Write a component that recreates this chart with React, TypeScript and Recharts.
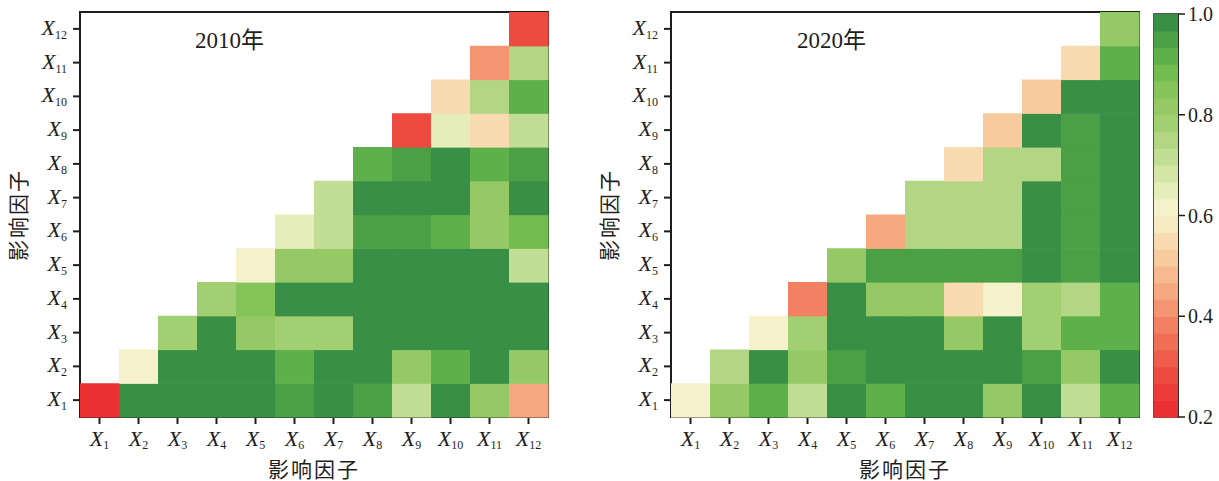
import React from 'react';
import { ScatterChart, Scatter, XAxis, YAxis, ReferenceArea } from 'recharts';

// factor labels (subscripts of X)
const factors = ['1', '2', '3', '4', '5', '6', '7', '8', '9', '10', '11', '12'];

// q-values, row Xi lists the cells for columns Xi..X12
const rows2010: number[][] = [
  [0.21, 0.98, 0.98, 0.98, 0.98, 0.95, 0.98, 0.95, 0.71, 0.98, 0.81, 0.46],
  [0.61, 0.98, 0.98, 0.98, 0.91, 0.98, 0.98, 0.81, 0.91, 0.98, 0.81],
  [0.78, 0.98, 0.8, 0.78, 0.78, 0.98, 0.98, 0.98, 0.98, 0.98],
  [0.78, 0.86, 0.98, 0.98, 0.98, 0.98, 0.98, 0.98, 0.98],
  [0.61, 0.81, 0.81, 0.98, 0.98, 0.98, 0.98, 0.71],
  [0.66, 0.71, 0.95, 0.95, 0.91, 0.81, 0.88],
  [0.71, 0.98, 0.98, 0.98, 0.81, 0.98],
  [0.91, 0.95, 0.98, 0.91, 0.95],
  [0.29, 0.66, 0.56, 0.71],
  [0.56, 0.74, 0.91],
  [0.42, 0.74],
  [0.29],
];

const rows2020: number[][] = [
  [0.62, 0.81, 0.91, 0.71, 0.98, 0.91, 0.98, 0.98, 0.81, 0.98, 0.72, 0.91],
  [0.74, 0.98, 0.81, 0.95, 0.98, 0.98, 0.98, 0.98, 0.95, 0.81, 0.98],
  [0.6, 0.78, 0.98, 0.98, 0.98, 0.81, 0.98, 0.78, 0.91, 0.91],
  [0.38, 0.98, 0.81, 0.81, 0.56, 0.62, 0.78, 0.74, 0.91],
  [0.81, 0.95, 0.95, 0.95, 0.95, 0.98, 0.95, 0.98],
  [0.46, 0.74, 0.74, 0.74, 0.98, 0.95, 0.98],
  [0.74, 0.74, 0.74, 0.98, 0.95, 0.98],
  [0.56, 0.74, 0.74, 0.95, 0.98],
  [0.52, 0.98, 0.95, 0.98],
  [0.52, 0.98, 0.98],
  [0.56, 0.91],
  [0.81],
];

const cbTicks = [0.2, 0.4, 0.6, 0.8, 1.0];

// 24 discrete colour steps from 0.2 to 1.0
const palette = [
  '#EA3032', '#EB3B38', '#ED4B40', '#EF5C4B', '#F06E56', '#F28163',
  '#F49571', '#F6A880', '#F7BA8E', '#F8CB9E', '#F8DBB0', '#F6EAC3',
  '#F4F1CB', '#E5EDB8', '#D4E6A6', '#C2DD94', '#B2D683', '#A3CF73',
  '#95C966', '#86C45A', '#72BC50', '#5EB14A', '#4BA046', '#388F45',
];

const VMIN = 0.2;
const VMAX = 1.0;
const STEP = (VMAX - VMIN) / palette.length;
const colorOf = (v: number) => {
  const k = Math.min(palette.length - 1, Math.max(0, Math.floor((v - VMIN) / STEP + 1e-9)));
  return palette[k];
};

const toPoints = (rows: number[][]) => {
  const pts: { x: number; y: number; v: number }[] = [];
  rows.forEach((row, i) => row.forEach((v, c) => pts.push({ x: i + 1 + c, y: i + 1, v })));
  return pts;
};

const cbData = palette.map((_, k) => ({ x: 0.5, y: VMIN + (k + 0.5) * STEP, k }));

const W = 560;
const H = 481;
const M = { top: 12, right: 12, left: 20, bottom: 24 };
const PLOT_W = W - M.left - 60 - M.right;
const PLOT_H = H - M.top - M.bottom - 40;
const CW = PLOT_W / 12;
const CH = PLOT_H / 12;

const serif = "'Liberation Serif', 'Times New Roman', 'Noto Sans CJK SC', serif";
const ink = '#1e1e1e';
const ticks = [1, 2, 3, 4, 5, 6, 7, 8, 9, 10, 11, 12];

const XTick = (p: any) => (
  <text x={p.x} y={p.y + 20} textAnchor="middle" fill={ink} style={{ fontFamily: serif }}>
    <tspan fontStyle="italic" fontSize={22}>X</tspan>
    <tspan fontSize={12} dy={3}>{factors[p.payload.value - 1]}</tspan>
  </text>
);

const YTick = (p: any) => (
  <text x={p.x - 4} y={p.y + 6} textAnchor="end" fill={ink} style={{ fontFamily: serif }}>
    <tspan fontStyle="italic" fontSize={22}>X</tspan>
    <tspan fontSize={12} dy={4}>{factors[p.payload.value - 1]}</tspan>
  </text>
);

const Cell = (p: any) => (
  <rect x={p.cx - CW / 2} y={p.cy - CH / 2} width={CW + 0.6} height={CH + 0.6} fill={colorOf(p.payload.v)} />
);

function Heat({ rows }: { rows: number[][] }) {
  return (
    <ScatterChart width={W} height={H} margin={M}>
      <XAxis
        type="number"
        dataKey="x"
        domain={[0.5, 12.5]}
        ticks={ticks}
        interval={0}
        height={40}
        tickSize={7}
        axisLine={{ stroke: ink, strokeWidth: 2 }}
        tickLine={{ stroke: ink, strokeWidth: 2 }}
        tick={<XTick />}
      />
      <YAxis
        type="number"
        dataKey="y"
        domain={[0.5, 12.5]}
        ticks={ticks}
        interval={0}
        width={60}
        tickSize={7}
        axisLine={{ stroke: ink, strokeWidth: 2 }}
        tickLine={{ stroke: ink, strokeWidth: 2 }}
        tick={<YTick />}
      />
      <Scatter data={toPoints(rows)} shape={<Cell />} isAnimationActive={false} />
      <ReferenceArea x1={0.5} x2={12.5} y1={0.5} y2={12.5} fill="none" stroke={ink} strokeWidth={2} />
    </ScatterChart>
  );
}

const CB_H = H - 14 - 64;
const CbCell = (p: any) => (
  <rect x={p.cx - 12} y={p.cy - CB_H / 48} width={24} height={CB_H / 24 + 0.6} fill={palette[p.payload.k]} />
);

const CbTick = (p: any) => (
  <text x={p.x + 1} y={p.y + 7} textAnchor="start" fill={ink} fontSize={20} style={{ fontFamily: serif }}>
    {p.payload.value.toFixed(1)}
  </text>
);

function ColorBar() {
  return (
    <ScatterChart width={69} height={H} margin={{ top: 14, right: 0, left: 4, bottom: 64 }}>
      <XAxis type="number" dataKey="x" domain={[0, 1]} hide />
      <YAxis
        type="number"
        dataKey="y"
        orientation="right"
        domain={[VMIN, VMAX]}
        ticks={cbTicks}
        interval={0}
        width={41}
        tickSize={7}
        axisLine={{ stroke: ink, strokeWidth: 1.5 }}
        tickLine={{ stroke: ink, strokeWidth: 1.5 }}
        tick={<CbTick />}
      />
      <Scatter data={cbData} shape={<CbCell />} isAnimationActive={false} />
      <ReferenceArea x1={0} x2={1} y1={VMIN} y2={VMAX} fill="none" stroke={ink} strokeWidth={1.5} />
    </ScatterChart>
  );
}

export default function App() {
  const label = { fontSize: 21, fill: ink, letterSpacing: 2, style: { fontFamily: serif } } as const;
  return (
    <div style={{ position: 'absolute', left: 0, top: 0, width: 1219, height: 481, background: '#fff' }}>
      <div style={{ position: 'absolute', left: 0, top: 0 }}>
        <Heat rows={rows2010} />
      </div>
      <div style={{ position: 'absolute', left: 591, top: 0 }}>
        <Heat rows={rows2020} />
      </div>
      <div style={{ position: 'absolute', left: 1150, top: 0 }}>
        <ColorBar />
      </div>
      <svg width={1219} height={481} style={{ position: 'absolute', left: 0, top: 0, pointerEvents: 'none' }}>
        <text x={195} y={48} fontSize={23} fill={ink} style={{ fontFamily: serif }}>2010年</text>
        <text x={797} y={48} fontSize={23} fill={ink} style={{ fontFamily: serif }}>2020年</text>
        <text x={314} y={477} textAnchor="middle" {...label}>影响因子</text>
        <text x={905} y={477} textAnchor="middle" {...label}>影响因子</text>
        <text transform="translate(26,215) rotate(-90)" textAnchor="middle" {...label}>影响因子</text>
        <text transform="translate(617,215) rotate(-90)" textAnchor="middle" {...label}>影响因子</text>
      </svg>
    </div>
  );
}
